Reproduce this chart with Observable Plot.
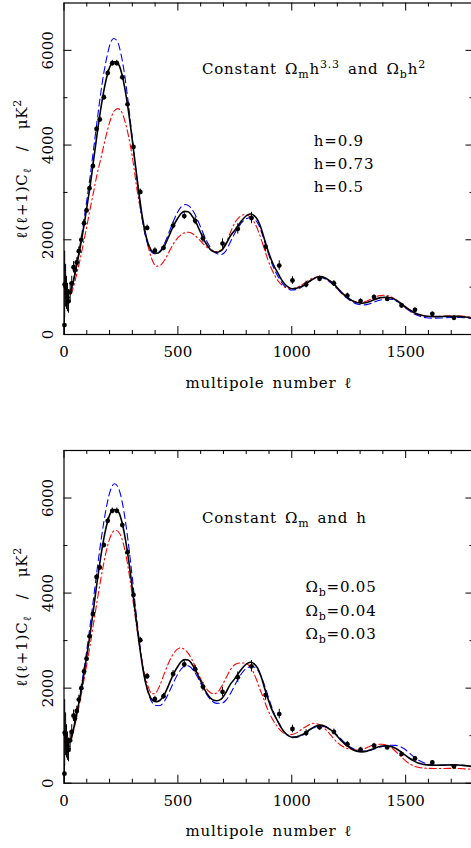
<!DOCTYPE html>
<html><head><meta charset="utf-8">
<script src="https://cdn.jsdelivr.net/npm/d3@7"></script>
<script src="https://cdn.jsdelivr.net/npm/@observablehq/plot@0.6"></script>
<style>
html,body{margin:0;padding:0;background:#fff;overflow:hidden;width:471px;height:848px}
#c svg{display:block;max-width:none !important}
</style></head><body><div id="c"></div>
<script>
// ---- measured band powers (WMAP-like binned data) ----
const dataEll = [2,3,7,11,15,20,27,34,42,48,56,65,76,88,99,112,127,143,157,175,192,212,232,256,279,305,335,365,399,437,479,528,576,610,696,763,823,885,945,1003,1063,1122,1185,1244,1302,1361,1419,1482,1541,1617,1712];
const dataCl  = [200,1060,1030,880,780,700,900,1080,1420,1360,1520,1760,2000,2350,2620,3090,3560,4340,4540,5010,5520,5730,5730,5430,4860,3960,3010,2250,1770,1830,2300,2500,2400,2030,1920,2230,2460,1855,1455,1140,1055,1175,1080,820,705,790,752,612,520,436,352];
const dataErr = [200,700,450,350,300,250,200,150,120,110,100,90,80,70,60,60,60,60,60,60,60,60,60,60,60,60,60,60,60,60,70,70,80,90,100,110,120,110,100,80,70,60,60,55,50,50,45,45,45,40,40];

// ---- model curves [ell, l(l+1)C_l] ----
const fiducial = [[2,1100],[6,950],[12,870],[20,850],[30,930],[40,1100],[50,1330],[60,1560],[70,1810],[80,2080],[90,2370],[100,2680],[115,3150],[130,3680],[145,4220],[160,4720],[175,5150],[190,5480],[205,5690],[222,5760],[240,5700],[255,5480],[270,5120],[285,4650],[300,4100],[315,3520],[330,2950],[345,2450],[360,2080],[375,1850],[390,1740],[406,1715],[420,1740],[440,1860],[460,2070],[480,2290],[500,2460],[515,2560],[531,2600],[545,2590],[560,2520],[580,2360],[600,2150],[620,1950],[640,1810],[655,1750],[670,1735],[690,1770],[710,1900],[730,2080],[750,2200],[770,2340],[790,2460],[805,2520],[819,2545],[835,2510],[850,2420],[865,2250],[880,2010],[895,1780],[910,1580],[925,1420],[940,1290],[955,1160],[970,1060],[985,1000],[1002,965],[1020,975],[1040,1010],[1060,1060],[1080,1130],[1100,1190],[1124,1223],[1145,1200],[1165,1140],[1185,1070],[1205,960],[1225,860],[1245,780],[1265,715],[1285,675],[1308,660],[1330,675],[1350,710],[1370,750],[1390,778],[1415,787],[1435,775],[1455,735],[1475,675],[1495,600],[1515,530],[1535,470],[1555,425],[1575,400],[1595,385],[1625,378],[1660,380],[1700,385],[1730,382],[1760,370],[1800,345]];
const hHigh = [[2,1500],[6,1150],[12,950],[20,880],[30,930],[40,1100],[50,1340],[60,1600],[70,1880],[80,2180],[90,2500],[100,2830],[115,3350],[130,3920],[145,4500],[160,5050],[175,5530],[190,5900],[205,6170],[219,6250],[235,6180],[250,5930],[265,5520],[280,4980],[295,4350],[310,3700],[325,3080],[340,2540],[355,2130],[370,1870],[385,1740],[400,1700],[415,1730],[435,1860],[455,2080],[475,2330],[495,2550],[515,2700],[534,2745],[550,2710],[570,2580],[590,2380],[610,2150],[630,1940],[650,1790],[670,1710],[690,1690],[710,1760],[730,1950],[750,2140],[770,2300],[790,2410],[805,2455],[822,2470],[840,2420],[855,2310],[870,2120],[885,1900],[900,1670],[915,1470],[930,1310],[945,1180],[960,1070],[980,980],[1000,940],[1020,950],[1040,990],[1060,1060],[1080,1130],[1100,1180],[1125,1200],[1145,1180],[1165,1120],[1185,1040],[1205,940],[1225,840],[1245,760],[1265,690],[1290,640],[1315,625],[1340,645],[1365,690],[1390,730],[1420,750],[1445,735],[1465,690],[1485,620],[1505,540],[1525,470],[1545,415],[1565,380],[1590,355],[1620,345],[1660,350],[1700,358],[1740,360],[1770,350],[1800,330]];
const hLow = [[2,1000],[6,900],[12,820],[20,790],[30,850],[40,980],[50,1160],[60,1360],[70,1570],[80,1800],[90,2040],[100,2280],[115,2660],[131,3040],[145,3380],[160,3680],[175,4000],[190,4300],[205,4550],[220,4720],[237,4770],[255,4680],[270,4460],[285,4150],[300,3750],[321,3050],[343,2450],[365,1950],[385,1600],[406,1440],[425,1470],[445,1600],[465,1780],[485,1950],[505,2070],[525,2140],[548,2160],[570,2110],[590,2020],[610,1920],[630,1830],[650,1770],[670,1750],[690,1790],[710,1920],[730,2150],[750,2360],[770,2480],[790,2530],[805,2520],[820,2470],[835,2370],[850,2220],[865,2020],[880,1800],[895,1580],[910,1400],[925,1250],[940,1130],[960,1030],[980,980],[1000,970],[1020,990],[1040,1040],[1060,1100],[1080,1160],[1100,1205],[1120,1220],[1140,1200],[1160,1140],[1180,1060],[1200,960],[1220,870],[1240,790],[1260,730],[1280,690],[1300,675],[1320,690],[1340,730],[1360,780],[1380,815],[1404,830],[1425,815],[1445,770],[1465,700],[1485,620],[1505,540],[1525,475],[1545,430],[1565,400],[1590,385],[1620,380],[1660,385],[1700,392],[1740,390],[1770,378],[1800,355]];
const obHigh = [[2,1100],[6,950],[12,870],[20,850],[30,930],[40,1110],[50,1350],[60,1600],[70,1870],[80,2160],[90,2470],[100,2800],[115,3330],[130,3900],[145,4480],[160,5020],[175,5500],[190,5900],[205,6180],[222,6300],[240,6200],[255,5930],[270,5500],[285,4950],[300,4320],[315,3650],[330,3020],[345,2480],[360,2080],[375,1820],[390,1680],[405,1635],[420,1635],[440,1720],[460,1900],[480,2110],[500,2300],[518,2420],[534,2477],[550,2460],[570,2360],[590,2200],[610,2010],[630,1840],[650,1730],[670,1680],[692,1683],[710,1740],[730,1880],[750,2060],[770,2240],[790,2370],[810,2440],[826,2455],[845,2410],[860,2300],[875,2130],[890,1920],[905,1700],[920,1500],[935,1330],[950,1190],[970,1060],[990,990],[1015,965],[1035,980],[1055,1030],[1075,1100],[1095,1160],[1120,1200],[1140,1195],[1160,1160],[1180,1090],[1200,1010],[1220,910],[1240,820],[1260,750],[1285,700],[1310,675],[1336,680],[1360,715],[1385,755],[1410,785],[1436,800],[1456,795],[1475,770],[1495,720],[1515,640],[1535,560],[1555,490],[1575,440],[1600,400],[1630,378],[1670,378],[1710,385],[1750,380],[1780,370],[1800,355]];
const obLow = [[2,1000],[6,900],[12,830],[20,820],[30,900],[40,1060],[50,1270],[60,1480],[70,1720],[80,1970],[90,2230],[100,2500],[115,2920],[130,3370],[145,3820],[160,4250],[175,4640],[190,4970],[205,5200],[220,5310],[230,5318],[245,5250],[260,5050],[275,4720],[290,4280],[305,3770],[320,3250],[335,2780],[350,2380],[365,2100],[375,1960],[387,1881],[400,1890],[420,2050],[440,2300],[460,2540],[480,2720],[495,2810],[512,2849],[530,2810],[550,2700],[570,2520],[590,2300],[610,2100],[630,1960],[645,1900],[658,1881],[675,1920],[695,2060],[715,2250],[735,2420],[755,2510],[775,2530],[797,2525],[815,2460],[830,2350],[845,2180],[860,1980],[875,1800],[890,1600],[905,1440],[920,1310],[940,1170],[960,1070],[985,1020],[1005,1030],[1025,1070],[1045,1140],[1065,1200],[1080,1240],[1097,1260],[1115,1245],[1135,1190],[1155,1100],[1175,990],[1195,880],[1215,800],[1235,745],[1255,715],[1275,700],[1295,700],[1315,720],[1335,760],[1355,800],[1375,818],[1397,820],[1420,795],[1440,735],[1460,650],[1480,560],[1500,470],[1520,400],[1540,355],[1560,330],[1590,315],[1630,310],[1670,310],[1710,312],[1750,305],[1800,290]];

// ---- ticks and texts ----
const xMajor = [0,500,1000,1500];
const xMinor = [100,200,300,400,600,700,800,900,1100,1200,1300,1400,1600,1700];
const yMajor = [0,2000,4000,6000];
const yMinor = [1000,3000,5000];
const xTitle = "multipole number ℓ";
const yTitle = "ℓ(ℓ+1)C_{ℓ}\u00A0\u00A0/\u00A0\u00A0μK^{2}";
const topTitle = "Constant Ω_{m}h^{3.3} and Ω_{b}h^{2}";
const topLabels = ["h=0.9","h=0.73","h=0.5"];
const botTitle = "Constant Ω_{m} and h";
const botLabels = ["Ω_{b}=0.05","Ω_{b}=0.04","Ω_{b}=0.03"];

const W = 475, ML = 63.5, MR = 1.5;
const FS = 15, FONT = "DejaVu Serif";
const BLUE = "#0000ff", RED = "#ff0000";

const points = dataEll.map((l, i) => ({l, c: dataCl[i], e: dataErr[i]}));

function richify(el) {
  const s = el.textContent;
  if (!/^\d+$/.test(s)) {
    el.style.letterSpacing = "0.8px";
    el.style.wordSpacing = "2.5px";
  }
  if (!/[_^]\{/.test(s)) return;
  const parts = [];
  const re = /([_^])\{([^}]*)\}/g;
  let last = 0, m;
  while ((m = re.exec(s))) {
    if (m.index > last) parts.push({t: s.slice(last, m.index), k: 0});
    parts.push({t: m[2], k: m[1] === "_" ? 1 : -1});
    last = re.lastIndex;
  }
  if (last < s.length) parts.push({t: s.slice(last), k: 0});
  el.textContent = "";
  let off = 0;
  for (const p of parts) {
    const ts = document.createElementNS("http://www.w3.org/2000/svg", "tspan");
    const target = p.k === 1 ? 4 : p.k === -1 ? -6 : 0;
    const d = target - off;
    if (d !== 0) ts.setAttribute("dy", d);
    off = target;
    if (p.k !== 0) ts.setAttribute("font-size", "11px");
    ts.textContent = p.t;
    el.appendChild(ts);
  }
}

function panel({height, mt, mb, blue, red, title, labels, labelDx, titleDy, labelDy0}) {
  const innerH = height - mt - mb, innerW = W - ML - MR;
  const tk = {stroke: "#000", strokeWidth: 1};
  const txt = {fontSize: FS, fill: "#000"};
  const marks = [
    Plot.line(red, {x: d => d[0], y: d => d[1], curve: "monotone-x", stroke: RED, strokeWidth: 1.1, strokeDasharray: "7,3,1.5,3", clip: true}),
    Plot.line(blue, {x: d => d[0], y: d => d[1], curve: "monotone-x", stroke: BLUE, strokeWidth: 1.1, strokeDasharray: "7,4", clip: true}),
    Plot.line(fiducial, {x: d => d[0], y: d => d[1], curve: "monotone-x", stroke: "#000", strokeWidth: 1.6, clip: true}),
    Plot.ruleX(points, {x: "l", y1: d => Math.max(0, d.c - d.e), y2: d => d.c + d.e, stroke: "#000", strokeWidth: 1}),
    Plot.dot(points, {x: "l", y: "c", r: 2.4, fill: "#000"}),
    Plot.frame({stroke: "#000", strokeWidth: 1.2}),
    Plot.ruleX(xMajor, {...tk, insetTop: innerH - 8}),
    Plot.ruleX(xMajor, {...tk, insetBottom: innerH - 8}),
    Plot.ruleX(xMinor, {...tk, insetTop: innerH - 4}),
    Plot.ruleX(xMinor, {...tk, insetBottom: innerH - 4}),
    Plot.ruleY(yMajor, {...tk, insetRight: innerW - 8}),
    Plot.ruleY(yMajor, {...tk, insetLeft: innerW - 8}),
    Plot.ruleY(yMinor, {...tk, insetRight: innerW - 4}),
    Plot.ruleY(yMinor, {...tk, insetLeft: innerW - 4}),
    Plot.text(xMajor, {...txt, x: d => d, text: d => String(d), frameAnchor: "bottom", lineAnchor: "top", dy: 12}),
    Plot.text(yMajor, {...txt, y: d => d, text: d => String(d), frameAnchor: "left", rotate: -90, textAnchor: "middle", lineAnchor: "bottom", dx: -11.5}),
    Plot.text([xTitle], {...txt, text: d => d, frameAnchor: "bottom", lineAnchor: "bottom", dy: 53}),
    Plot.text([yTitle], {...txt, text: d => d, frameAnchor: "left", rotate: -90, textAnchor: "middle", lineAnchor: "bottom", dx: -37.5}),
    Plot.text([title], {...txt, text: d => d, frameAnchor: "top-left", textAnchor: "start", lineAnchor: "bottom", dx: 138, dy: titleDy}),
    ...labels.map((s, i) => Plot.text([s], {...txt, text: d => d, frameAnchor: "top-left", textAnchor: "start", lineAnchor: "bottom", dx: labelDx, dy: labelDy0 + i * 23.3}))
  ];
  const svg = Plot.plot({
    width: W, height, marginLeft: ML, marginRight: MR, marginTop: mt, marginBottom: mb,
    x: {domain: [0, 1800], axis: null},
    y: {domain: [0, 7000], axis: null},
    style: {fontFamily: FONT, fontSize: FS + "px", background: "#fff", overflow: "visible"},
    marks
  });
  svg.querySelectorAll("text").forEach(richify);
  return svg;
}

const c = document.getElementById("c");
c.appendChild(panel({height: 420, mt: 2.5, mb: 86, blue: hHigh, red: hLow, title: topTitle, labels: topLabels, labelDx: 249.8, titleDy: 70.5, labelDy0: 142.5}));
c.appendChild(panel({height: 428, mt: 30, mb: 65.3, blue: obHigh, red: obLow, title: botTitle, labels: botLabels, labelDx: 241.5, titleDy: 72.3, labelDy0: 141.7}));
</script></body></html>
